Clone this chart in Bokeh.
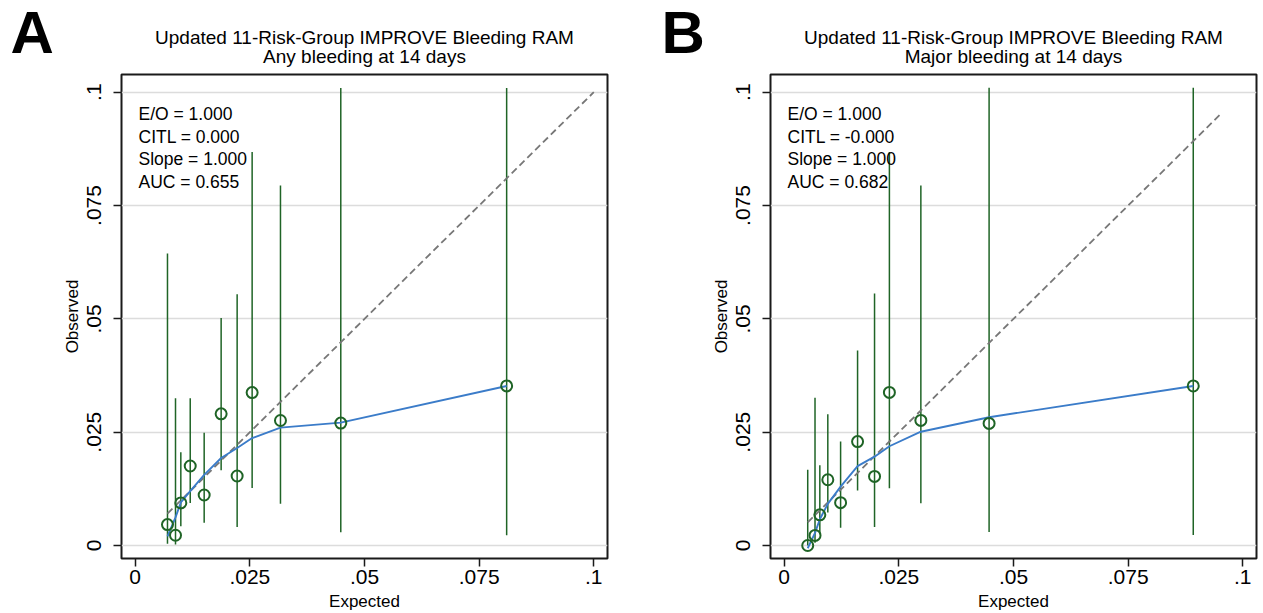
from bokeh.plotting import figure
from bokeh.layouts import row, column
from bokeh.models import Label, FixedTicker, Range1d, ColumnDataSource
from bokeh.embed import file_html
from bokeh.resources import INLINE

FONT = "Liberation Sans"

main_title = "Updated 11-Risk-Group IMPROVE Bleeding RAM"
x_label = "Expected"
y_label = "Observed"
x_ticks = [0, 0.025, 0.05, 0.075, 0.1]
x_tick_labels = ["0", ".025", ".05", ".075", ".1"]
y_ticks = [0, 0.025, 0.05, 0.075, 0.1]
y_tick_labels = ["0", ".025", ".05", ".075", ".1"]

# Panel A: Any bleeding at 14 days
a_letter = "A"
a_subtitle = "Any bleeding at 14 days"
a_expected = [0.00704, 0.00879, 0.00995, 0.0120, 0.01504, 0.01874, 0.02223, 0.0255, 0.03168, 0.04483, 0.0810]
a_observed = [0.00462, 0.00227, 0.0094, 0.01754, 0.01115, 0.02905, 0.01533, 0.03374, 0.02758, 0.0270, 0.0352]
a_ci_low = [0.0004, 0.0002, 0.00425, 0.0094, 0.0050, 0.01658, 0.0041, 0.0127, 0.00924, 0.00293, 0.00227]
a_ci_high = [0.0644, 0.0325, 0.0206, 0.0325, 0.0249, 0.0502, 0.05545, 0.0868, 0.0794, 0.1009, 0.1009]
a_smooth = [0.0020, 0.0062, 0.0095, 0.0120, 0.0156, 0.0193, 0.0215, 0.0237, 0.0260, 0.0271, 0.0352]
a_ref = [0.00704, 0.1]
a_stats = ["E/O = 1.000", "CITL = 0.000", "Slope = 1.000", "AUC = 0.655"]

# Panel B: Major bleeding at 14 days
b_letter = "B"
b_subtitle = "Major bleeding at 14 days"
b_expected = [0.00513, 0.00672, 0.00777, 0.00951, 0.0123, 0.0160, 0.0197, 0.02294, 0.0298, 0.04468, 0.0892]
b_observed = [0.0, 0.00223, 0.00677, 0.01451, 0.00945, 0.02292, 0.01525, 0.03378, 0.0276, 0.02693, 0.0352]
b_ci_low = [0.0, 0.0006, 0.0025, 0.00729, 0.00394, 0.01213, 0.00409, 0.01265, 0.0093, 0.00298, 0.0023]
b_ci_high = [0.01674, 0.0326, 0.01771, 0.02894, 0.02292, 0.0430, 0.0556, 0.0868, 0.0794, 0.101, 0.101]
b_smooth = [-0.0006, 0.0028, 0.0058, 0.0092, 0.0130, 0.0175, 0.0196, 0.0219, 0.0251, 0.0283, 0.0352]
b_ref = [0.00513, 0.0951]
b_stats = ["E/O = 1.000", "CITL = -0.000", "Slope = 1.000", "AUC = 0.682"]

GREEN = "#1f6426"
BLUE = "#3b7cc9"
DARK = "#1a1a1a"

HEADER_H = 72
MAIN_H = 541
FRAME_W = 486
FRAME_H = 485


def make_header(width, letter, letter_x, title_cx, subtitle):
    h = figure(width=width, height=HEADER_H, min_border=0,
               x_axis_location=None, y_axis_location=None,
               output_backend="svg", toolbar_location=None, title=None)
    h.frame_align = False
    h.outline_line_color = None
    h.grid.visible = False
    h.background_fill_color = "white"
    h.border_fill_color = "white"
    h.add_layout(Label(x=letter_x, y=HEADER_H - 32, x_units="screen", y_units="screen",
                       text=letter, text_font=FONT, text_font_size="60px", text_font_style="bold",
                       text_align="left", text_baseline="alphabetic", text_color="black"))
    h.add_layout(Label(x=title_cx, y=HEADER_H - 36.5, x_units="screen", y_units="screen",
                       text=main_title, text_font=FONT, text_font_size="19px",
                       text_align="center", text_baseline="alphabetic", text_color="black"))
    h.add_layout(Label(x=title_cx, y=HEADER_H - 56, x_units="screen", y_units="screen",
                       text=subtitle, text_font=FONT, text_font_size="19px",
                       text_align="center", text_baseline="alphabetic", text_color="black"))
    return h


def make_panel(width, left, ex, ob, lo, hi, sm, ref, stats):
    right = width - left - FRAME_W
    p = figure(width=width, height=MAIN_H,
               min_border_left=left, min_border_right=right,
               min_border_top=MAIN_H - FRAME_H - 54, min_border_bottom=54,
               x_range=Range1d(-0.002987, 0.10299), y_range=Range1d(-0.002862, 0.10390),
               output_backend="svg", toolbar_location=None, title=None)
    p.frame_align = False
    p.background_fill_color = "white"
    p.border_fill_color = "white"
    p.outline_line_color = DARK
    p.outline_line_width = 2

    p.xgrid.visible = False
    p.ygrid.grid_line_color = "#dcdcdc"
    p.ygrid.grid_line_width = 1.5
    p.ygrid.ticker = FixedTicker(ticks=y_ticks)

    for ax, ticks, labs in ((p.xaxis[0], x_ticks, x_tick_labels), (p.yaxis[0], y_ticks, y_tick_labels)):
        ax.ticker = FixedTicker(ticks=ticks)
        ax.major_label_overrides = {t: s for t, s in zip(ticks, labs)}
        ax.axis_line_color = None
        ax.major_tick_out = 8
        ax.major_tick_in = 0
        ax.major_tick_line_color = DARK
        ax.major_tick_line_width = 1.5
        ax.minor_tick_line_color = None
        ax.major_label_text_font = FONT
        ax.major_label_text_font_size = "21px"
        ax.major_label_text_color = "black"
        ax.axis_label_text_font = FONT
        ax.axis_label_text_font_size = "17px"
        ax.axis_label_text_font_style = "normal"
        ax.axis_label_text_color = "black"
    p.xaxis.axis_label = x_label
    p.yaxis.axis_label = y_label
    p.xaxis.major_label_standoff = 3
    p.xaxis.axis_label_standoff = 5
    p.yaxis.major_label_standoff = 12
    p.yaxis.axis_label_standoff = 3
    p.yaxis.major_label_orientation = "vertical"

    src = ColumnDataSource(dict(x=ex, y=ob, lo=lo, hi=hi, sm=sm))
    p.segment(x0="x", y0="lo", x1="x", y1="hi", source=src, line_color=GREEN, line_width=1.5)
    p.line(x=ref, y=ref, line_color="#777777", line_width=1.8, line_dash="7 4")
    p.line(x="x", y="sm", source=src, line_color=BLUE, line_width=1.9)
    p.scatter(x="x", y="y", source=src, marker="circle", size=11, fill_color=None,
              line_color=GREEN, line_width=2)

    for i, s in enumerate(stats):
        p.add_layout(Label(x=17, y=444.7 - 22.8 * i, x_units="screen", y_units="screen",
                           text=s, text_font=FONT, text_font_size="17.5px", text_color="black",
                           text_baseline="middle", text_align="left"))
    return p


WA = 640
WB = 623
LEFT_A = 121
LEFT_B = 130

hA = make_header(WA, a_letter, 10, LEFT_A + FRAME_W / 2, a_subtitle)
pA = make_panel(WA, LEFT_A, a_expected, a_observed, a_ci_low, a_ci_high, a_smooth, a_ref, a_stats)
hB = make_header(WB, b_letter, 21, LEFT_B + FRAME_W / 2, b_subtitle)
pB = make_panel(WB, LEFT_B, b_expected, b_observed, b_ci_low, b_ci_high, b_smooth, b_ref, b_stats)

layout = row(column(hA, pA), column(hB, pB))
open("out.html", "w").write(file_html(layout, INLINE))
